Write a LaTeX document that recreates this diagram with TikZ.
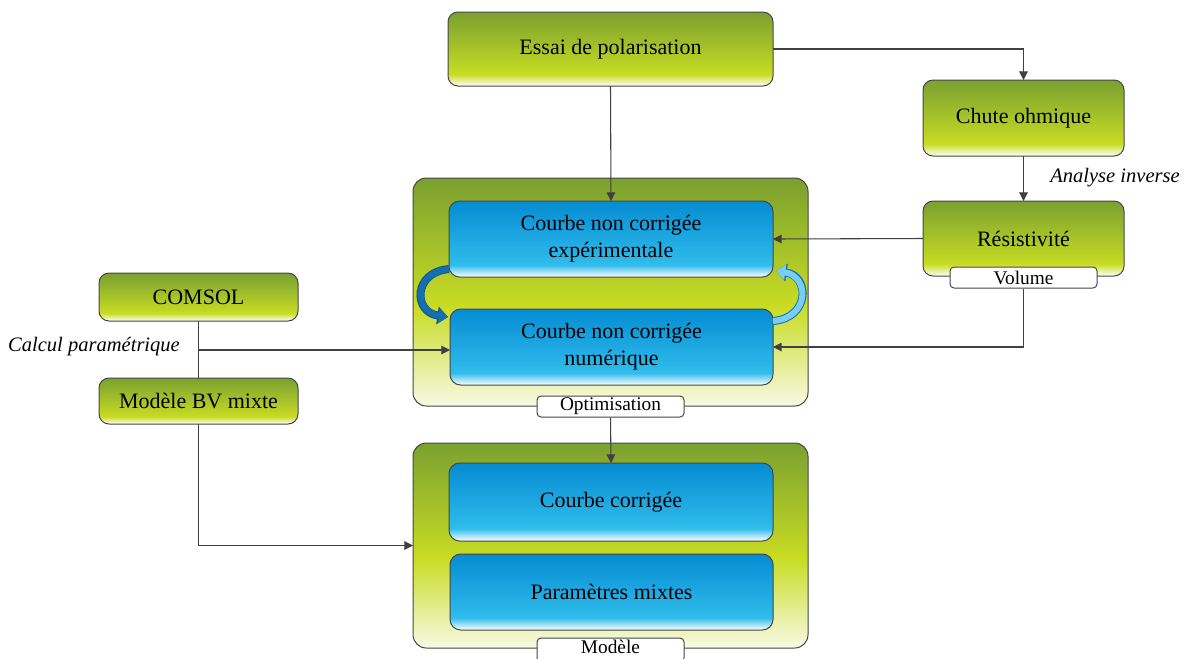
\documentclass[tikz,border=0pt]{standalone}
\usepackage{fontspec}
\setmainfont{Liberation Serif}
\usetikzlibrary{arrows.meta,calc}
\definecolor{gdark}{RGB}{122,160,48}
\definecolor{gyel}{RGB}{200,220,35}
\definecolor{gpale}{RGB}{248,250,228}
\definecolor{bdark}{RGB}{5,140,210}
\definecolor{bmid}{RGB}{48,188,236}
\definecolor{edge}{RGB}{70,70,70}
\definecolor{arrc}{RGB}{64,64,64}
\definecolor{cdark}{RGB}{20,110,175}
\definecolor{clight}{RGB}{120,205,245}
\pgfdeclareverticalshading{greensh}{100bp}{color(0bp)=(white); color(25bp)=(white); color(33bp)=(gyel); color(75bp)=(gdark); color(100bp)=(gdark)}
\pgfdeclareverticalshading{bigsh}{100bp}{color(0bp)=(gpale); color(25bp)=(gpale); color(47bp)=(gyel); color(75bp)=(gdark); color(100bp)=(gdark)}
\pgfdeclareverticalshading{bluesh}{100bp}{color(0bp)=(white); color(25bp)=(white); color(33bp)=(bmid); color(75bp)=(bdark); color(100bp)=(bdark)}
\begin{document}
\begin{tikzpicture}[x=0.75pt,y=-0.75pt,
  sz/.style 2 args={minimum width=#1*0.75pt, minimum height=#2*0.75pt},
  base/.style={draw=edge, line width=0.75pt, inner sep=0pt, outer sep=0pt, align=center, font=\fontsize{16.5}{20.5}\selectfont},
  gbox/.style={base, rounded corners=7.5pt, shade, shading=greensh},
  bigbox/.style={base, rounded corners=10pt, shade, shading=bigsh},
  bbox/.style={base, rounded corners=8pt, shade, shading=bluesh},
  tab/.style={draw=edge, line width=0.75pt, fill=white, rounded corners=3pt, inner sep=0pt, font=\fontsize{14.5}{15}\selectfont},
  arr/.style={draw=arrc, line width=0.8pt, -{Triangle[length=6.5pt,width=6.5pt]}},
  ln/.style={draw=arrc, line width=0.8pt},
  lab/.style={font=\fontsize{15.4}{18}\selectfont\itshape, inner sep=0pt},
  curv/.style={line width=4.5pt, -{Triangle[length=7pt,width=11pt]}}
]
\useasboundingbox (0,0) rectangle (1189,658);
% big containers
\node[bigbox, sz={395}{228}] (opt) at (610.5,292) {};
\node[bigbox, sz={395}{205}] (mod) at (610.5,545.5) {};
% green boxes
\node[gbox, sz={325}{74}] (essai) at (610.5,49) {Essai de polarisation};
\node[gbox, sz={201}{76}] (chute) at (1023.5,118) {Chute ohmique};
\node[gbox, sz={201}{75}] (resist) at (1023.5,238.5) {Résistivité};
\node[gbox, sz={199}{48}] (comsol) at (198.5,297) {COMSOL};
\node[gbox, sz={199}{46}] (bv) at (198.5,401) {Modèle BV mixte};
% blue boxes
\node[bbox, sz={324}{76}] (b1) at (611,239) {Courbe non corrigée\\expérimentale};
\node[bbox, sz={323}{76}] (b2) at (611.5,347) {Courbe non corrigée\\numérique};
\node[bbox, sz={324}{78}] (b3) at (611,502) {Courbe corrigée};
\node[bbox, sz={323}{76}] (b4) at (611.5,592) {Paramètres mixtes};
% tabs
\node[tab, sz={147}{21}] (vol) at (1023.5,277.5) {Volume};
\node[tab, sz={147}{21}] (optab) at (610.5,406.5) {Optimisation};
\node[tab, sz={147}{24}, text depth=5pt] (modtab) at (610.5,650) {Modèle};
% curved arrows
\coordinate (l1) at ($(b1.south west)+(0,-8)$);
\coordinate (l2) at ($(b2.north west)+(-2,8)$);
\draw[curv, draw=cdark!80!black, line width=6pt, -{Triangle[length=8pt,width=13pt]}] (l1) .. controls (413,272) and (413,312) .. (l2);
\draw[curv, draw=cdark] (l1) .. controls (413,272) and (413,312) .. (l2);
\coordinate (r1) at ($(b2.north east)+(0,12)$);
\coordinate (r2) at ($(b1.south east)+(3,-6)$);
\draw[curv, draw=cdark, line width=6pt, -{Triangle[length=8pt,width=13pt]}] (r1) .. controls (810,318) and (810,276) .. (r2);
\draw[curv, draw=clight] (r1) .. controls (810,318) and (810,276) .. (r2);
% connectors
\draw[arr] (essai.south) -- (b1.north);
\draw[arr] (essai.east) -| (chute.north);
\draw[arr] (chute.south) -- (resist.north);
\node[lab] (ai) at (1115,178) {Analyse inverse};
\draw[arr] (resist.west) -- (b1.east);
\draw[arr] (vol.south) |- (b2.east);
\draw[ln] (comsol.south) -- (bv.north);
\coordinate (br) at (198.5,350);
\draw[arr] (br) -- (b2.west |- br);
\node[lab] (cp) at (94,347) {Calcul paramétrique};
\draw[arr] (bv.south) |- (mod.west);
\draw[arr] (optab.south) -- (b3.north);
\end{tikzpicture}
\end{document}
